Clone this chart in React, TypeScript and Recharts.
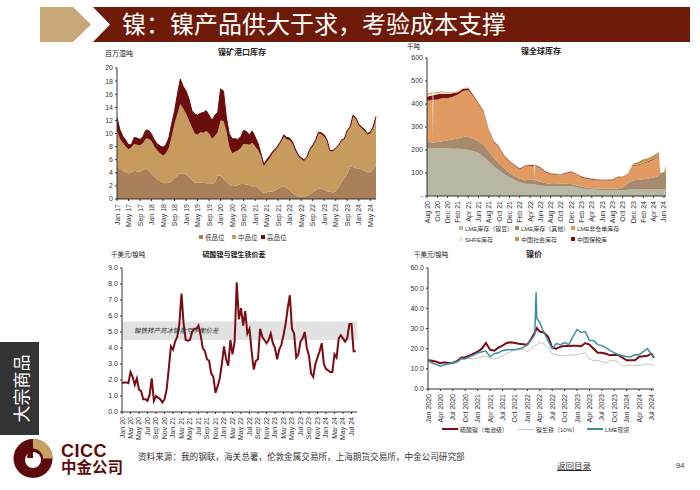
import { AreaChart, Area, LineChart, Line, XAxis, YAxis, ReferenceArea, Label } from "recharts";

const FONT = "'Liberation Sans', 'Noto Sans CJK SC', sans-serif";
const AXIS = "#333333";

// chart 1: nickel ore port stocks, monthly Jan 17 - Jul 24
const oreTickLabels = [
  "Jan 17", "May 17", "Sep 17", "Jan 18", "May 18", "Sep 18", "Jan 19", "May 19", "Sep 19", "Jan 20", "May 20", "Sep 20",
  "Jan 21", "May 21", "Sep 21", "Jan 22", "May 22", "Sep 22", "Jan 23", "May 23", "Sep 23", "Jan 24", "May 24",
];
const oreLow = [
  5.0, 4.6, 4.4, 4.1, 3.9, 4.0, 4.3, 4.2, 4.2, 4.4, 4.6, 4.3,
  3.9, 3.4, 3.0, 2.7, 2.5, 2.4, 2.5, 2.7, 3.2, 3.6, 3.9, 3.9,
  3.7, 3.4, 2.9, 2.5, 2.5, 2.5, 2.5, 2.4, 2.4, 2.3, 2.5, 3.6,
  3.6, 3.1, 2.6, 2.2, 2.0, 2.0, 2.1, 2.3, 2.3, 2.2, 2.1, 1.9,
  2.0, 1.7, 1.3, 0.9, 1.0, 1.2, 1.1, 1.3, 1.6, 1.8, 2.0, 1.7,
  1.3, 0.9, 0.6, 0.4, 0.4, 0.3, 0.5, 0.7, 1.0, 1.3, 1.6, 1.6,
  1.4, 1.2, 1.1, 1.0, 1.1, 1.8, 2.6, 3.2, 3.8, 5.0, 4.9, 4.7,
  4.7, 4.5, 4.3, 4.1, 4.1, 4.5, 5.2,
];
const oreMidTop = [
  10.5, 9.2, 8.6, 8.0, 7.6, 7.9, 8.4, 8.3, 8.2, 8.5, 9.2, 9.2,
  8.8, 8.0, 7.4, 7.0, 6.6, 7.0, 7.8, 9.5, 11.5, 13.0, 14.5, 13.8,
  13.0, 12.0, 11.0, 10.0, 9.8, 10.2, 10.1, 10.4, 10.0, 9.2, 9.6, 10.2,
  12.0, 11.9, 10.4, 8.0, 7.0, 7.2, 7.4, 7.8, 8.4, 8.4, 8.3, 8.6,
  8.0, 7.5, 6.6, 5.0, 5.6, 6.2, 6.9, 7.4, 8.0, 8.7, 9.5, 9.1,
  9.0, 8.4, 7.3, 6.5, 6.1, 5.8, 6.3, 7.4, 8.0, 8.8, 10.0, 9.9,
  9.5, 8.8, 7.3, 7.3, 7.7, 8.1, 8.9, 9.1, 10.4, 10.9, 12.6, 12.2,
  11.2, 10.8, 10.4, 9.8, 10.0, 10.8, 12.4,
];
const oreTotal = [
  12.4, 10.6, 9.6, 9.0, 8.3, 8.3, 9.4, 9.3, 9.1, 9.5, 10.5, 10.5,
  9.9, 9.0, 8.4, 8.1, 7.9, 8.3, 9.3, 11.5, 13.4, 16.0, 18.3, 17.2,
  16.5, 15.3, 13.5, 13.0, 12.8, 13.1, 13.2, 13.5, 12.8, 12.0, 12.8, 13.2,
  16.8, 16.5, 12.5, 10.0, 9.2, 9.2, 9.1, 9.5, 10.5, 10.3, 9.8, 10.4,
  9.5, 8.5, 7.0, 5.3, 6.0, 6.5, 7.2, 7.6, 8.2, 8.9, 9.8, 9.4,
  9.3, 8.7, 7.6, 6.7, 6.3, 6.0, 6.4, 7.6, 8.2, 9.0, 10.2, 10.1,
  9.8, 9.0, 7.4, 7.4, 7.8, 8.2, 9.0, 9.2, 10.5, 11.0, 12.8, 12.4,
  11.4, 11.0, 10.6, 10.0, 10.2, 11.0, 12.6,
];

// chart 2: global stocks, x is months since Aug 20, extra points for the sharp slots
const stockTickLabels = [
  "Aug 20", "Oct 20", "Dec 20", "Feb 21", "Apr 21", "Jun 21", "Aug 21", "Oct 21", "Dec 21", "Feb 22", "Apr 22", "Jun 22",
  "Aug 22", "Oct 22", "Dec 22", "Feb 23", "Apr 23", "Jun 23", "Aug 23", "Oct 23", "Dec 23", "Feb 24", "Apr 24", "Jun 24",
];
const stockMonths = [
  0, 1, 1.08, 1.16, 1.24, 2, 3, 4, 5, 6, 7, 8, 9, 10, 11, 12, 13, 14, 15, 16, 17, 18, 19, 20, 20.8, 20.9,
  21, 22, 23, 24, 25, 26, 27, 28, 29, 30, 31, 32, 33, 34, 35, 36, 37, 38, 39, 40, 41, 42, 43, 44, 45, 45.3, 46, 46.4,
];
const stockBeans = [
  210, 207, 207, 207, 207, 207, 207, 206, 205, 205, 204, 200, 195, 188, 170, 150, 128, 112, 95, 82, 70, 60, 53, 52, 50, 50,
  50, 46, 44, 42, 43, 44, 44, 42, 38, 33, 30, 28, 27, 26, 25, 25, 25, 25, 27, 28, 28, 28, 28, 28, 28, 28, 28, 28,
];
const stockOther = [
  26, 26, 26, 26, 26, 28, 31, 36, 41, 45, 52, 58, 55, 50, 52, 45, 37, 28, 25, 18, 18, 15, 15, 21, 21, 21,
  18, 16, 12, 10, 9, 9, 9, 10, 8, 7, 7, 6, 6, 6, 6, 6, 8, 13, 28, 40, 42, 45, 48, 52, 60, 72, 72, 72,
];
const stockBonded = [
  18, 20, 20, 0, 20, 22, 20, 18, 16, 10, 10, 8, 5, 4, 4, 3, 3, 3, 3, 3, 3, 3, 3, 3, 3, 0,
  3, 3, 3, 3, 3, 3, 3, 3, 3, 3, 3, 3, 3, 3, 3, 3, 3, 3, 3, 3, 3, 3, 3, 3, 3, 0, 0, 2,
];
const stockShfe = [
  8, 8, 8, 0, 8, 6, 6, 5, 3, 2, 2, 1, 1, 1, 1, 1, 1, 1, 1, 1, 1, 1, 1, 1, 1, 0,
  1, 1, 1, 1, 1, 1, 1, 1, 1, 1, 1, 1, 1, 1, 1, 1, 1, 1, 1, 1, 1, 1, 1, 1, 1, 0, 0, 1,
];
const stockSocial = [
  5, 4, 4, 0, 4, 4, 3, 3, 2, 2, 2, 2, 1, 1, 1, 1, 1, 1, 1, 1, 1, 1, 1, 1, 1, 0,
  1, 1, 1, 1, 1, 1, 1, 1, 1, 1, 1, 1, 1, 1, 1, 1, 1, 1, 1, 4, 10, 14, 12, 14, 12, 0, 0, 3,
];
const stockTotal = [
  445, 450, 450, 248, 450, 452, 455, 451, 452, 455, 470, 472, 440, 405, 370, 290, 240, 217, 177, 155, 137, 120, 135, 137, 137, 84,
  137, 127, 108, 100, 98, 96, 103, 108, 98, 87, 80, 77, 74, 73, 73, 74, 86, 86, 98, 141, 148, 160, 165, 177, 191, 100, 105, 131,
];

// chart 3: nickel sulphate vs NPI spread, half-month steps from Jan 20
const spreadTickLabels = [
  "Jan 20", "Mar 20", "May 20", "Jul 20", "Sep 20", "Nov 20", "Jan 21", "Mar 21", "May 21", "Jul 21", "Sep 21", "Nov 21",
  "Jan 22", "Mar 22", "May 22", "Jul 22", "Sep 22", "Nov 22", "Jan 23", "Mar 23", "May 23", "Jul 23", "Sep 23", "Nov 23",
  "Jan 24", "Mar 24", "May 24", "Jul 24",
];
const spreadValues = [
  1.8, 1.85, 1.85, 1.8, 2.5, 2.2, 1.7, 2.1, 1.4, 1.3, 0.8, 0.8, 0.7, 1.1, 2.1, 0.7, 1.0, 0.9, 0.8, 0.6, 0.8, 1.4,
  2.7, 4.1, 3.9, 4.4, 4.7, 5.5, 7.4, 5.5, 4.5, 4.45, 4.5, 5.0, 5.2, 5.2, 5.4, 4.8, 4.0, 3.8, 3.3, 3.2, 2.4, 2.2,
  1.2, 1.6, 2.1, 3.0, 4.1, 3.3, 2.9, 4.5, 3.6, 4.4, 8.1, 5.8, 6.5, 5.4, 6.3, 4.9, 5.2, 3.8, 2.65, 3.2, 3.3, 5.2,
  4.7, 4.5, 4.3, 4.5, 4.9, 4.3, 4.0, 3.3, 3.9, 4.2, 4.8, 5.5, 6.5, 7.3, 5.2, 4.9, 3.4, 3.6, 4.4, 4.6, 5.0, 4.0,
  3.5, 2.4, 2.2, 3.0, 3.4, 3.8, 4.3, 3.0, 2.7, 2.6, 2.5, 2.5, 3.6, 3.4, 4.6, 4.8, 4.6, 4.4, 4.6, 5.5, 5.5, 3.8, 3.8,
];

// chart 4: nickel prices, x is months since Jan 2020
const priceTickLabels = [
  "Jan 2020", "Apr 2020", "Jul 2020", "Oct 2020", "Jan 2021", "Apr 2021", "Jul 2021", "Oct 2021", "Jan 2022", "Apr 2022",
  "Jul 2022", "Oct 2022", "Jan 2023", "Apr 2023", "Jul 2023", "Oct 2023", "Jan 2024", "Apr 2024", "Jul 2024",
];
const priceMonths = [
  0, 1, 2, 3, 4, 5, 6, 7, 8, 9, 10, 11, 12, 13, 14, 15, 16, 17, 18, 19, 20, 21, 22, 23, 24, 25, 25.8, 26.1, 26.3,
  27, 28, 29, 30, 31, 32, 33, 34, 35, 36, 37, 38, 39, 40, 41, 42, 43, 44, 45, 46, 47, 48, 49, 50, 51, 52, 53, 54, 54.6,
];
const priceSulphate = [
  14.3, 14.0, 13.5, 12.8, 13.3, 12.8, 13.0, 13.8, 15.5, 15.8, 16.5, 17.5, 18.5, 20, 22.8, 19.5, 19, 20.5, 21.5, 22.8, 23.2, 22.8, 22.4, 22.2, 22, 25, 28, 29.5, 30.2,
  28.5, 28, 26, 20.5, 20, 21, 21.3, 21.3, 21.4, 21.5, 21.2, 22.8, 22, 20, 18, 18, 17.5, 16.7, 17, 16.8, 15.5, 14.2, 14.2, 14.2, 16, 16.2, 16.5, 17.5, 15.5,
];
const priceNpi = [
  13.6, 12.5, 12, 11.5, 12, 12.2, 12.5, 13, 14.5, 15, 15.2, 14.8, 15.5, 16, 16.5, 15.2, 14.8, 15.5, 16.5, 17.5, 18.5, 19.5, 19.5, 19.8, 18.5, 20, 21.3, 21.8, 22,
  23, 22.5, 20.5, 17.5, 17, 16.5, 16.5, 17, 16.8, 17.2, 17.5, 18, 15, 14, 14.2, 13.5, 13, 14.2, 14.2, 13.3, 11.5, 11.5, 11.7, 11.7, 11.6, 12, 12.4, 12, 11.6,
];
const priceLme = [
  14.3, 13, 12.2, 11.3, 12, 12.5, 13, 13.5, 15, 15, 16, 16.8, 17.8, 18.5, 18.8, 16, 17.5, 18, 19, 19.5, 19.5, 19.5, 20, 20.5, 22, 24.5, 27, 48, 35,
  33, 28, 24, 20, 22.5, 22, 23, 22, 26, 29.5, 28, 28.5, 24, 24, 22, 21.5, 20.5, 19, 18, 17, 16.5, 16, 16, 17, 17, 18.5, 20, 17, 16,
];

const oreData = oreTotal.map((total, i) => ({
  t: i,
  low: oreLow[i],
  mid: oreMidTop[i] - oreLow[i],
  high: total - oreMidTop[i],
}));

const stockData = stockMonths.map((t, i) => ({
  t,
  beans: stockBeans[i],
  other: stockOther[i],
  bonded: stockBonded[i],
  shfe: stockShfe[i],
  social: stockSocial[i],
  // whatever is left under the top line is the off-warrant layer
  offWarrant: stockTotal[i] - stockBeans[i] - stockOther[i] - stockBonded[i] - stockShfe[i] - stockSocial[i],
}));

const spreadData = spreadValues.map((value, i) => ({ t: i / 2, value }));

const priceData = priceMonths.map((t, i) => ({ t, sulphate: priceSulphate[i], npi: priceNpi[i], lme: priceLme[i] }));

const tickStyle = { fontSize: 7, fill: "#333", fontFamily: FONT };

// rotated month label hanging under the axis
function MonthTick({ x, y, payload, labels, step }: any) {
  const label = labels[Math.round(payload.value / step)];
  return (
    <text x={x} y={y + 1} transform={`rotate(-90 ${x} ${y + 1})`} textAnchor="end" dominantBaseline="central" style={tickStyle}>
      {label}
    </text>
  );
}

function Caption({ left, top, width, center, bold, size = 8, children }: any) {
  return (
    <div
      style={{
        position: "absolute",
        left,
        top,
        width,
        textAlign: center ? "center" : "left",
        fontSize: size,
        fontWeight: bold ? 700 : 400,
        color: "#222",
        lineHeight: "10px",
        whiteSpace: "nowrap",
      }}
    >
      {children}
    </div>
  );
}

function LegendItem({ left, top, color, label, line, size = 6.5 }: any) {
  return (
    <div style={{ position: "absolute", left, top, display: "flex", alignItems: "center", height: 10, fontSize: size, color: "#333", whiteSpace: "nowrap" }}>
      <span style={{ width: line ? 16 : 4, height: line ? line : 4, background: color, marginRight: 2 }} />
      {label}
    </div>
  );
}

function OreChart() {
  const ticks = oreTickLabels.map((_, i) => i * 4);
  return (
    <div style={{ position: "absolute", left: 90, top: 60 }}>
      <AreaChart width={300} height={170} data={oreData} margin={{ top: 8, right: 14, bottom: 0, left: 0 }}>
        <XAxis
          dataKey="t"
          type="number"
          domain={[0, 90]}
          ticks={ticks}
          interval={0}
          height={31}
          stroke={AXIS}
          tickSize={2}
          tick={<MonthTick labels={oreTickLabels} step={4} />}
        />
        <YAxis domain={[0, 20]} ticks={[0, 2, 4, 6, 8, 10, 12, 14, 16, 18, 20]} width={27} stroke={AXIS} tickSize={2} tick={tickStyle} interval={0} />
        <Area dataKey="low" stackId="ore" type="linear" stroke="none" fill="#a98059" fillOpacity={1} isAnimationActive={false} />
        <Area dataKey="mid" stackId="ore" type="linear" stroke="none" fill="#c79a5e" fillOpacity={1} isAnimationActive={false} />
        <Area dataKey="high" stackId="ore" type="linear" stroke="#6b0d0d" strokeWidth={1} fill="#6b0d0d" fillOpacity={1} isAnimationActive={false} />
      </AreaChart>
    </div>
  );
}

function StockChart() {
  const ticks = stockTickLabels.map((_, i) => i * 2);
  return (
    <div style={{ position: "absolute", left: 390, top: 50 }}>
      <AreaChart width={300} height={175} data={stockData} margin={{ top: 8, right: 24, bottom: 0, left: 0 }}>
        <XAxis
          dataKey="t"
          type="number"
          domain={[0, 46.4]}
          ticks={ticks}
          interval={0}
          height={29}
          stroke={AXIS}
          tickSize={2}
          tick={<MonthTick labels={stockTickLabels} step={2} />}
        />
        <YAxis
          domain={[0, 600]}
          ticks={[0, 100, 200, 300, 400, 500, 600]}
          width={37}
          stroke={AXIS}
          tickSize={2}
          tick={tickStyle}
          interval={0}
          tickFormatter={(v: number) => (v === 0 ? "-" : String(v))}
        />
        <Area dataKey="beans" stackId="stock" type="linear" stroke="none" fill="#b7b7a3" fillOpacity={1} isAnimationActive={false} />
        <Area dataKey="other" stackId="stock" type="linear" stroke="none" fill="#a68a6d" fillOpacity={1} isAnimationActive={false} />
        <Area dataKey="offWarrant" stackId="stock" type="linear" stroke="none" fill="#e09a62" fillOpacity={1} isAnimationActive={false} />
        <Area dataKey="bonded" stackId="stock" type="linear" stroke="none" fill="#7a0f10" fillOpacity={1} isAnimationActive={false} />
        <Area dataKey="shfe" stackId="stock" type="linear" stroke="none" fill="#efe3d2" fillOpacity={1} isAnimationActive={false} />
        <Area dataKey="social" stackId="stock" type="linear" stroke="none" fill="#b99a50" fillOpacity={1} isAnimationActive={false} />
      </AreaChart>
    </div>
  );
}

function SpreadChart() {
  const ticks = spreadTickLabels.map((_, i) => i * 2);
  return (
    <div style={{ position: "absolute", left: 90, top: 260 }}>
      <LineChart width={300} height={185} data={spreadData} margin={{ top: 8, right: 33, bottom: 0, left: 0 }}>
        <XAxis
          dataKey="t"
          type="number"
          domain={[0, 55.3]}
          ticks={ticks}
          interval={0}
          height={33}
          stroke={AXIS}
          tickSize={2}
          tick={<MonthTick labels={spreadTickLabels} step={2} />}
        />
        <YAxis
          domain={[0, 9]}
          ticks={[0, 1, 2, 3, 4, 5, 6, 7, 8, 9]}
          width={32}
          stroke={AXIS}
          tickSize={2}
          tick={tickStyle}
          interval={0}
          tickFormatter={(v: number) => v.toFixed(1)}
        />
        <ReferenceArea x1={0} x2={55.3} y1={4.5} y2={5.65} fill="#e2e2e2" fillOpacity={1} stroke="none">
          <Label value="镍铁转产高冰镍盈亏平衡价差" position="insideLeft" offset={12} style={{ fontSize: 6.5, fontStyle: "italic", fill: "#333", fontFamily: FONT }} />
        </ReferenceArea>
        <Line dataKey="value" type="linear" stroke="#7a0c14" strokeWidth={2} dot={false} isAnimationActive={false} />
      </LineChart>
    </div>
  );
}

function PriceChart() {
  const ticks = priceTickLabels.map((_, i) => i * 3);
  return (
    <div style={{ position: "absolute", left: 390, top: 260 }}>
      <LineChart width={300} height={165} data={priceData} margin={{ top: 8, right: 36, bottom: 0, left: 0 }}>
        <XAxis
          dataKey="t"
          type="number"
          domain={[0, 54.6]}
          ticks={ticks}
          interval={0}
          height={36}
          stroke={AXIS}
          tickSize={2}
          tick={<MonthTick labels={priceTickLabels} step={3} />}
        />
        <YAxis
          domain={[0, 60]}
          ticks={[0, 10, 20, 30, 40, 50, 60]}
          width={38}
          stroke={AXIS}
          tickSize={2}
          tick={tickStyle}
          interval={0}
          tickFormatter={(v: number) => v.toFixed(1)}
        />
        <Line dataKey="npi" type="linear" stroke="#c9c5b6" strokeWidth={1} dot={false} isAnimationActive={false} />
        <Line dataKey="sulphate" type="linear" stroke="#7a0c14" strokeWidth={2} dot={false} isAnimationActive={false} />
        <Line dataKey="lme" type="linear" stroke="#3f8fa3" strokeWidth={1.5} dot={false} isAnimationActive={false} />
      </LineChart>
    </div>
  );
}

function PageFrame() {
  return (
    <>
      <svg width={700} height={490} style={{ position: "absolute", left: 0, top: 0 }}>
        <polygon points="40,7 73,7 91,24.5 73,42 40,42" fill="#c8a878" />
        <polygon points="93,7 690,7 690,42 93,42 110,24.5" fill="#6e1a08" />
        <rect x={0} y={342} width={39} height={93} fill="#333333" />
        <circle cx={33} cy={458.5} r={19.5} fill="#5c0a0c" />
        <path d="M33 439 A19.5 19.5 0 0 1 52.5 458.5 L43 458.5 A10 10 0 0 0 33 448.5 Z" fill="#c8a060" />
        <circle cx={33} cy={460} r={8} fill="#ffffff" />
        <path d="M33 448 A12 12 0 0 0 27 458 L33 458 Z" fill="#5c0a0c" />
      </svg>
      <div style={{ position: "absolute", left: 122, top: 11, fontSize: 24, lineHeight: "28px", color: "#fff", whiteSpace: "nowrap" }}>
        镍：镍产品供大于求，考验成本支撑
      </div>
      <div
        style={{
          position: "absolute",
          left: 0,
          top: 342,
          width: 39,
          height: 93,
          display: "flex",
          alignItems: "center",
          justifyContent: "center",
          color: "#fff",
          fontSize: 17,
        }}
      >
        <span style={{ transform: "rotate(-90deg)", whiteSpace: "nowrap" }}>大宗商品</span>
      </div>
      <div style={{ position: "absolute", left: 61, top: 443, height: 16, fontSize: 18, fontWeight: 700, lineHeight: "16px", color: "#5c0a0c", letterSpacing: 0.5 }}>CICC</div>
      <div style={{ position: "absolute", left: 61, top: 460, height: 15, fontSize: 15.5, fontWeight: 700, lineHeight: "15px", color: "#5c0a0c", whiteSpace: "nowrap" }}>中金公司</div>
      <div style={{ position: "absolute", left: 138, top: 451, fontSize: 8.6, lineHeight: "12px", color: "#333", whiteSpace: "nowrap" }}>
        资料来源：我的钢联，海关总署，伦敦金属交易所，上海期货交易所，中金公司研究部
      </div>
      <div style={{ position: "absolute", left: 557, top: 460, fontSize: 8.5, lineHeight: "12px", color: "#333", textDecoration: "underline", whiteSpace: "nowrap" }}>返回目录</div>
      <div style={{ position: "absolute", left: 676, top: 460, fontSize: 7.5, lineHeight: "12px", color: "#333" }}>94</div>
    </>
  );
}

export default function App() {
  return (
    <div style={{ position: "absolute", left: 0, top: 0, width: 700, height: 490, background: "#fff", overflow: "hidden", fontFamily: FONT }}>
      <PageFrame />

      <Caption left={142} top={48} width={200} center bold>镍矿港口库存</Caption>
      <Caption left={105} top={49} size={7}>百万湿吨</Caption>
      <OreChart />
      <LegendItem left={199} top={232} color="#a98059" label="低品位" />
      <LegendItem left={232} top={232} color="#c79a5e" label="中品位" />
      <LegendItem left={261} top={232} color="#6b0d0d" label="高品位" />

      <Caption left={441} top={47} width={200} center bold>镍全球库存</Caption>
      <Caption left={407} top={42} size={6.5}>千吨</Caption>
      <StockChart />
      <LegendItem left={459} top={223} size={6} color="#b7b7a3" label="LME库存（镍豆）" />
      <LegendItem left={515} top={223} size={6} color="#a68a6d" label="LME库存（其他）" />
      <LegendItem left={571} top={223} size={6} color="#e09a62" label="LME非仓单库存" />
      <LegendItem left={459} top={234} size={6} color="#efe3d2" label="SHFE库存" />
      <LegendItem left={515} top={234} size={6} color="#b99a50" label="中国社会库存" />
      <LegendItem left={571} top={234} size={6} color="#7a0f10" label="中国保税库" />

      <Caption left={134} top={250} width={200} center bold size={7}>硫酸镍与镍生铁价差</Caption>
      <Caption left={111} top={250} size={6.5}>千美元/镍吨</Caption>
      <SpreadChart />

      <Caption left={434} top={250} width={200} center bold>镍价</Caption>
      <Caption left={414} top={250} size={6.5}>千美元/镍吨</Caption>
      <PriceChart />
      <LegendItem left={442} top={424} size={6} color="#7a0c14" line={2} label="硫酸镍（电池级）" />
      <LegendItem left={518} top={424} size={6} color="#c9c5b6" line={1} label="镍生铁（10%）" />
      <LegendItem left={587} top={424} size={6} color="#3f8fa3" line={2} label="LME现货" />
    </div>
  );
}
